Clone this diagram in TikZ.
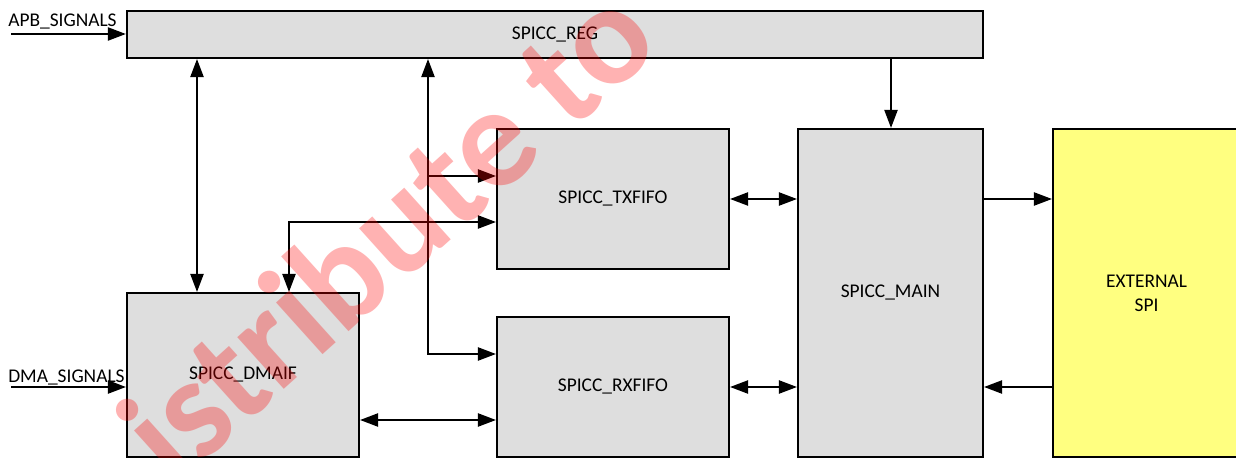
\documentclass[tikz,border=0pt]{standalone}
\usepackage{fontspec}
\setmainfont{Carlito}
\usepackage{tikz}
\usetikzlibrary{positioning, arrows.meta}

\definecolor{blockgray}{HTML}{DEDEDE}
\definecolor{extyellow}{HTML}{FFFF80}

\begin{document}
\begin{tikzpicture}[
                x=0.025cm, y=-0.025cm,
                box/.style={draw=black, line width=1.5pt, rectangle, align=center, inner sep=2pt,
                        font=\fontsize{13.8}{17}\selectfont},
                block/.style={box, fill=blockgray},
                extbox/.style={box, fill=extyellow},
                siglabel/.style={font=\fontsize{13.8}{17}\selectfont, inner sep=0pt},
                sig/.style={draw=black, line width=1.2pt, -{Triangle[length=0.45cm, width=0.33cm]}},
                bidir/.style={draw=black, line width=1.2pt, {Triangle[length=0.45cm, width=0.33cm]}-{Triangle[length=0.45cm, width=0.33cm]}},
                watermark/.style={font=\fontsize{102}{102}\selectfont\bfseries, text=red, text opacity=0.3, inner sep=0pt}
            ]

            \useasboundingbox (0,0) rectangle (1236,458);
            \clip (0,0) rectangle (1236,458);

            % blocks
            \node[block, minimum width=21.4cm, minimum height=1.175cm] (reg) at (555,34.5) {SPICC\_REG};
            \node[block, minimum width=5.8cm, minimum height=4.1cm] (dmaif) at (243,375) {SPICC\_DMAIF};
            \node[block, minimum width=5.8cm, minimum height=3.5cm] (tx) at (613,199) {SPICC\_TXFIFO};
            \node[block, minimum width=5.8cm, minimum height=3.5cm] (rx) at (613,387) {SPICC\_RXFIFO};
            \node[block, minimum width=4.625cm, minimum height=8.2cm] (main) at (890.5,293) {SPICC\_MAIN};
            \node[extbox, minimum width=4.675cm, minimum height=8.2cm] (ext) at (1146.5,293) {EXTERNAL\\SPI};

            % columns and rows of the connectors
            \coordinate (busA) at (197,0);
            \coordinate (busB) at (289,0);
            \coordinate (busC) at (428,0);
            \coordinate (busD) at (891,0);
            \coordinate (rowT) at (0,176);
            \coordinate (rowU) at (0,222);
            \coordinate (rowR) at (0,354);
            \coordinate (rowD) at (0,420);
            \coordinate (apbin) at (11,34);
            \coordinate (dmain) at (11,387);

            % external inputs
            \draw[sig] (apbin) -- (apbin -| reg.west);
            \node[siglabel, anchor=base west] (apblbl) at (8,27) {APB\_SIGNALS};
            \draw[sig] (dmain) -- (dmain -| dmaif.west);
            \node[siglabel, anchor=base west] (dmalbl) at (8,382) {DMA\_SIGNALS};

            % register bus
            \draw[bidir] (busA |- reg.south) -- (busA |- dmaif.north);
            \draw[bidir] (busB |- dmaif.north) |- (tx.west |- rowU);
            \draw[bidir] (busC |- reg.south) |- (rx.west |- rowR);
            \draw[sig] (busC |- rowT) -- (tx.west |- rowT);
            \draw[sig] (busD |- reg.south) -- (busD |- main.north);

            % data paths
            \draw[bidir] (dmaif.east |- rowD) -- (rx.west |- rowD);
            \draw[bidir] (tx.east) -- (tx.east -| main.west);
            \draw[bidir] (rx.east) -- (rx.east -| main.west);
            \draw[sig] (main.east |- tx.east) -- (ext.west |- tx.east);
            \draw[sig] (ext.west |- rx.east) -- (main.east |- rx.east);

            % watermark
            \node[watermark, rotate=42, anchor=base east] (wmark) at (664,48) {istribute to};
        \end{tikzpicture}
\end{document}
